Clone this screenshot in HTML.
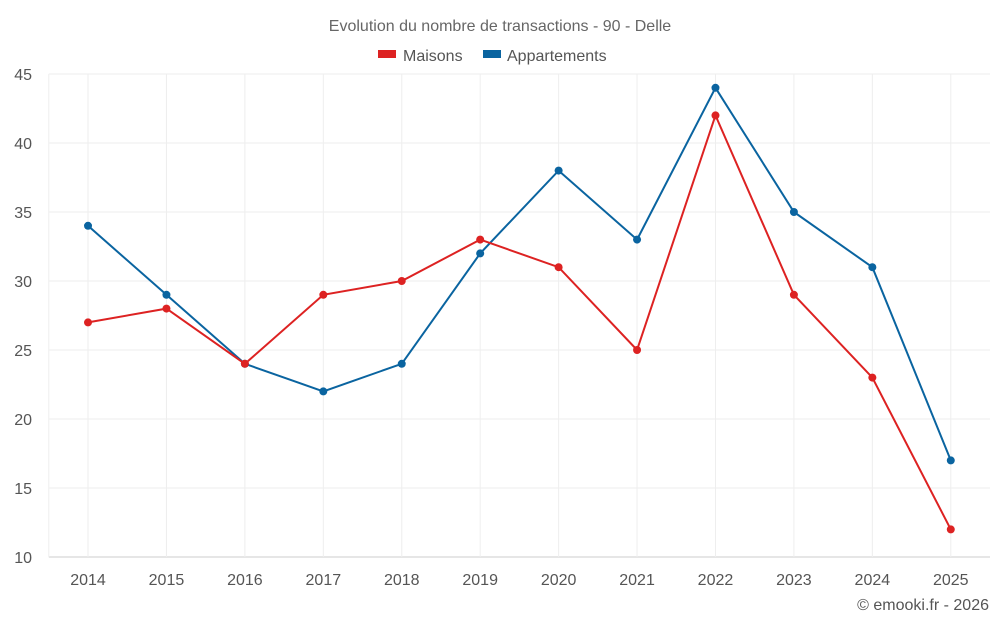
<!DOCTYPE html>
<html><head><meta charset="utf-8"><style>
body{margin:0;background:#fff;font-family:"Liberation Sans",sans-serif}
svg text{font-family:"Liberation Sans",sans-serif}
</style></head><body>
<svg id="chart" width="1000" height="625" viewBox="0 0 1000 625">
<text x="500" y="31" text-anchor="middle" font-size="16" fill="#666">Evolution du nombre de transactions - 90 - Delle</text>
<g>
<g><rect x="378" y="50" width="18" height="8" fill="#dd2222"/><text x="403" y="61" font-size="16" fill="#555">Maisons</text></g>
<g><rect x="483" y="50" width="18" height="8" fill="#0a64a0"/><text x="507" y="61" font-size="16" fill="#555">Appartements</text></g>
</g>
<g id="grid"></g>
<g id="axes"></g>
<g id="series"></g>
<text x="989" y="610" text-anchor="end" font-size="16" fill="#555">© emooki.fr - 2026</text>
</svg>
<script>
const categories=["2014","2015","2016","2017","2018","2019","2020","2021","2022","2023","2024","2025"];
const maisons=[27,28,24,29,30,33,31,25,42,29,23,12];
const appartements=[34,29,24,22,24,32,38,33,44,35,31,17];
const yTicks=[10,15,20,25,30,35,40,45];
const L=48.8,R=990,T=74,B=557,yMin=10,yMax=45;
const bw=(R-L)/categories.length;
const x=i=>L+bw*(i+0.5);
const y=v=>B-(v-yMin)/(yMax-yMin)*(B-T);
const NS="http://www.w3.org/2000/svg";
function mk(tag,attrs,parent){const e=document.createElementNS(NS,tag);for(const k in attrs)e.setAttribute(k,attrs[k]);parent.appendChild(e);return e;}
const grid=document.getElementById('grid'),axes=document.getElementById('axes'),series=document.getElementById('series');
yTicks.forEach(t=>{
 const l=mk('line',{x1:L,x2:R,y1:y(t),y2:y(t),stroke:t===yMin?'#ccc':'#eee','stroke-width':1},grid);
 
 
 const tx=mk('text',{x:32,y:y(t)+6,'text-anchor':'end','font-size':16,fill:'#555'},axes);
 tx.textContent=t;
 
 
});
categories.forEach((c,i)=>{
 const l=mk('line',{x1:x(i),x2:x(i),y1:T,y2:B,stroke:'#eee','stroke-width':1},grid);
 
 
 const tx=mk('text',{x:x(i),y:585,'text-anchor':'middle','font-size':16,fill:'#555'},axes);
 tx.textContent=c;
 
 
});
const l0=mk('line',{x1:L,x2:L,y1:T,y2:B,stroke:'#eee'},grid);


function draw(vals,color,name){
 const p=mk('polyline',{points:vals.map((v,i)=>x(i)+','+y(v)).join(' '),fill:'none',stroke:color,'stroke-width':2},series);
 
 
 vals.forEach((v,i)=>{
  const c=mk('circle',{cx:x(i),cy:y(v),r:4,fill:color},series);
  
  
 });
}
draw(appartements,'#0a64a0','appartements');
draw(maisons,'#dd2222','maisons');
</script>
</body></html>
